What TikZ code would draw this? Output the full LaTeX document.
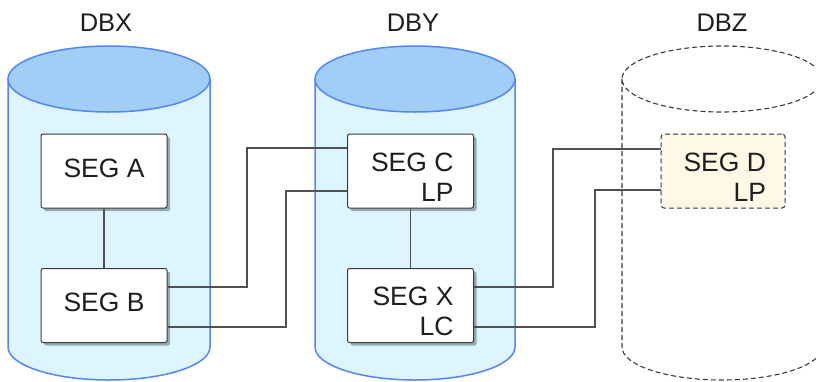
\documentclass[tikz,border=0pt]{standalone}
\usepackage{fontspec}
\setmainfont{Liberation Sans}
\usetikzlibrary{shadows,calc}
\definecolor{cylfill}{HTML}{DCF5FF}
\definecolor{cyltop}{HTML}{A0CEF6}
\definecolor{cylline}{HTML}{5485F5}
\definecolor{boxline}{HTML}{3A3A3A}
\definecolor{connline}{HTML}{505050}
\definecolor{segdfill}{HTML}{FFF8E6}
\definecolor{txt}{HTML}{1E1E1E}
\newcommand{\twoline}[2]{\makebox[86pt][r]{\begin{tabular}[b]{@{}r@{}}#1\\#2\end{tabular}}}
\tikzset{
  segbox/.style={draw=boxline, line width=1pt, fill=white, rounded corners=2pt,
    minimum width=126pt, minimum height=74pt, inner sep=0pt, text=txt,
    font=\fontsize{26.5}{30}\selectfont,
    drop shadow={shadow xshift=3pt, shadow yshift=-3pt, fill=black, opacity=0.3}},
  onebox/.style={segbox, text height=19pt, text depth=7pt},
  twobox/.style={segbox, text height=60pt, text depth=0pt},
  dashbox/.style={draw=boxline, line width=1pt, fill=segdfill, rounded corners=3pt,
    dash pattern=on 5pt off 3pt, minimum width=124pt, minimum height=74pt,
    inner sep=0pt, text=txt, font=\fontsize{26.5}{30}\selectfont,
    text height=60pt, text depth=0pt},
  conn/.style={draw=connline, line width=1.4pt},
  dblabel/.style={text=txt, font=\fontsize{25.5}{30}\selectfont, inner sep=0pt},
  cylbody/.style={fill=cylfill, draw=cylline, line width=1.5pt},
  cylcap/.style={fill=cyltop, draw=cylline, line width=1.5pt},
  ghostcyl/.style={draw=boxline, line width=1.1pt, dash pattern=on 5pt off 3pt}
}
\begin{document}
\begin{tikzpicture}[x=1pt,y=-1pt]
\useasboundingbox (0,0) rectangle (816,381);
\clip (0,0) rectangle (816,381);
% DBX cylinder
\path[cylbody] (8,79) -- (8,347) arc[start angle=180,end angle=360,x radius=101pt,y radius=33pt] -- (210,79) -- cycle;
\path[cylcap] (109,79) ellipse[x radius=101pt,y radius=33pt];
% DBY cylinder
\path[cylbody] (315,79) -- (315,347) arc[start angle=180,end angle=360,x radius=100pt,y radius=33pt] -- (515,79) -- cycle;
\path[cylcap] (415,79) ellipse[x radius=100pt,y radius=33pt];
% DBZ cylinder (dashed)
\draw[ghostcyl] (622,79) -- (622,347) arc[start angle=180,end angle=360,x radius=100pt,y radius=33pt] -- (822,79);
\draw[ghostcyl] (722,79) ellipse[x radius=100pt,y radius=33pt];
% labels
\node[dblabel] (lx) at (106,23) {DBX};
\node[dblabel] (ly) at (413,23) {DBY};
\node[dblabel] (lz) at (722,23) {DBZ};
% boxes
\node[onebox] (A) at (104,171) {SEG A};
\node[onebox] (B) at (104,305.5) {SEG B};
\node[twobox] (C) at (410.5,171) {\twoline{SEG C}{LP}};
\node[twobox] (X) at (410.5,305.5) {\twoline{SEG X}{LC}};
\node[dashbox] (D) at (723,171) {\twoline{SEG D}{LP}};
% connectors
\draw[conn] (A.south) -- (B.north);
\draw[conn] (C.south) -- (X.north);
\draw[conn] ([yshift=18.5pt]B.east) -| (247,148) -- ([yshift=23pt]C.west);
\draw[conn] ([yshift=-21.5pt]B.east) -| (286,191) -- ([yshift=-20pt]C.west);
\draw[conn] ([yshift=18.5pt]X.east) -| (553,149) -- ([yshift=22pt]D.west);
\draw[conn] ([yshift=-21.5pt]X.east) -| (595,190) -- ([yshift=-19pt]D.west);
\end{tikzpicture}
\end{document}
